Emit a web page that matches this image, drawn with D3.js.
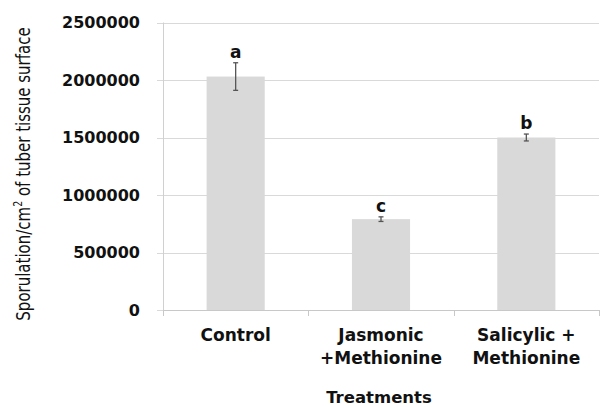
<!DOCTYPE html>
<html>
<head>
<meta charset="utf-8">
<script src="https://cdn.jsdelivr.net/npm/d3@7"></script>
<style>
  html, body { margin: 0; padding: 0; background: #ffffff; }
  svg { display: block; }
</style>
</head>
<body>
<svg id="chart" width="600" height="408"></svg>
<script>
// Treatments and their mean sporulation per cm² of tuber tissue surface
const categories = ["Control", "Jasmonic +Methionine", "Salicylic + Methionine"];
const categoryLines = [["Control"], ["Jasmonic", "+Methionine"], ["Salicylic +", "Methionine"]];
const means = [2030000, 790000, 1500000];
const errors = [120000, 20000, 30000];
const groupLetters = ["a", "c", "b"];
const yTicks = [0, 500000, 1000000, 1500000, 2000000, 2500000];

const svg = d3.select("#chart");
const plotLeft = 163, plotRight = 599, plotTop = 22.5, plotBottom = 310;
const boldFont = "'DejaVu Sans', sans-serif";

const x = d3.scaleBand().domain(categories).range([plotLeft, plotRight]).padding(0);
const y = d3.scaleLinear().domain([0, 2500000]).range([plotBottom, plotTop]);

// horizontal gridlines with short ticks left of the axis
svg.append("g")
  .selectAll("line")
  .data(yTicks)
  .join("line")
  .attr("x1", plotLeft - 6)
  .attr("x2", plotRight)
  .attr("y1", d => Math.round(y(d)) + 0.5)
  .attr("y2", d => Math.round(y(d)) + 0.5)
  .attr("stroke", "#d9d9d9")
  .attr("stroke-width", 1);

// y axis line
svg.append("line")
  .attr("x1", plotLeft + 0.5).attr("x2", plotLeft + 0.5)
  .attr("y1", plotTop).attr("y2", plotBottom)
  .attr("stroke", "#d0d0d0");

// x axis line and category boundary ticks
svg.append("line")
  .attr("x1", plotLeft).attr("x2", plotRight)
  .attr("y1", plotBottom + 0.5).attr("y2", plotBottom + 0.5)
  .attr("stroke", "#c8c8c8");
const boundaries = categories.map(c => x(c)).concat([plotRight]);
svg.append("g")
  .selectAll("line")
  .data(boundaries)
  .join("line")
  .attr("x1", d => Math.round(d) + 0.5)
  .attr("x2", d => Math.round(d) + 0.5)
  .attr("y1", plotBottom)
  .attr("y2", plotBottom + 6)
  .attr("stroke", "#c8c8c8");

// y tick labels
svg.append("g")
  .selectAll("text")
  .data(yTicks)
  .join("text")
  .attr("x", 140)
  .attr("y", d => y(d))
  .attr("dy", "0.36em")
  .attr("text-anchor", "end")
  .attr("font-family", boldFont)
  .attr("font-weight", "bold")
  .attr("font-size", 16)
  .attr("fill", "#111")
  .text(d => d3.format("d")(d));

// bars
const barW = x.bandwidth() * 0.4;
svg.append("g")
  .selectAll("rect")
  .data(means)
  .join("rect")
  .attr("x", (d, i) => x(categories[i]) + x.bandwidth() / 2 - barW / 2)
  .attr("y", d => y(d))
  .attr("width", barW)
  .attr("height", d => plotBottom - y(d))
  .attr("fill", "#d9d9d9");

// error bars
const eb = svg.append("g").attr("stroke", "#555555").attr("stroke-width", 1.3);
means.forEach((m, i) => {
  const cx = x(categories[i]) + x.bandwidth() / 2;
  const hi = y(m + errors[i]), lo = y(m - errors[i]);
  eb.append("line").attr("x1", cx).attr("x2", cx).attr("y1", hi).attr("y2", lo);
  eb.append("line").attr("x1", cx - 2.5).attr("x2", cx + 2.5).attr("y1", hi).attr("y2", hi);
  eb.append("line").attr("x1", cx - 2.5).attr("x2", cx + 2.5).attr("y1", lo).attr("y2", lo);
});

// significance letters above the error bars
svg.append("g")
  .selectAll("text")
  .data(groupLetters)
  .join("text")
  .attr("x", (d, i) => x(categories[i]) + x.bandwidth() / 2)
  .attr("y", (d, i) => y(means[i] + errors[i]) - 5)
  .attr("text-anchor", "middle")
  .attr("font-family", boldFont)
  .attr("font-weight", "bold")
  .attr("font-size", 17)
  .attr("fill", "#111")
  .text(d => d);

// category labels
const xl = svg.append("g");
categoryLines.forEach((lines, i) => {
  const t = xl.append("text")
    .attr("x", x(categories[i]) + x.bandwidth() / 2)
    .attr("y", 341)
    .attr("text-anchor", "middle")
    .attr("font-family", boldFont)
    .attr("font-weight", "bold")
    .attr("font-size", 17)
    .attr("fill", "#111");
  lines.forEach((ln, j) => {
    t.append("tspan")
      .attr("x", x(categories[i]) + x.bandwidth() / 2)
      .attr("dy", j === 0 ? 0 : 22.5)
      .text(ln);
  });
});

// x axis title
svg.append("text")
  .attr("x", (plotLeft + plotRight) / 2 - 2)
  .attr("y", 403)
  .attr("text-anchor", "middle")
  .attr("font-family", boldFont)
  .attr("font-weight", "bold")
  .attr("font-size", 16.5)
  .attr("fill", "#111")
  .text("Treatments");

// y axis title
const yt = svg.append("text")
  .attr("transform", "translate(29.5,174) scale(1.3,1) rotate(-90)")
  .attr("text-anchor", "middle")
  .attr("font-family", "'DejaVu Sans', sans-serif")
  .attr("font-size", 15)
  .attr("fill", "#111");
yt.append("tspan").text("Sporulation/cm");
yt.append("tspan").attr("font-size", 9.5).attr("dy", -6).text("2");
yt.append("tspan").attr("dy", 6).text(" of tuber tissue surface");
</script>
</body>
</html>
